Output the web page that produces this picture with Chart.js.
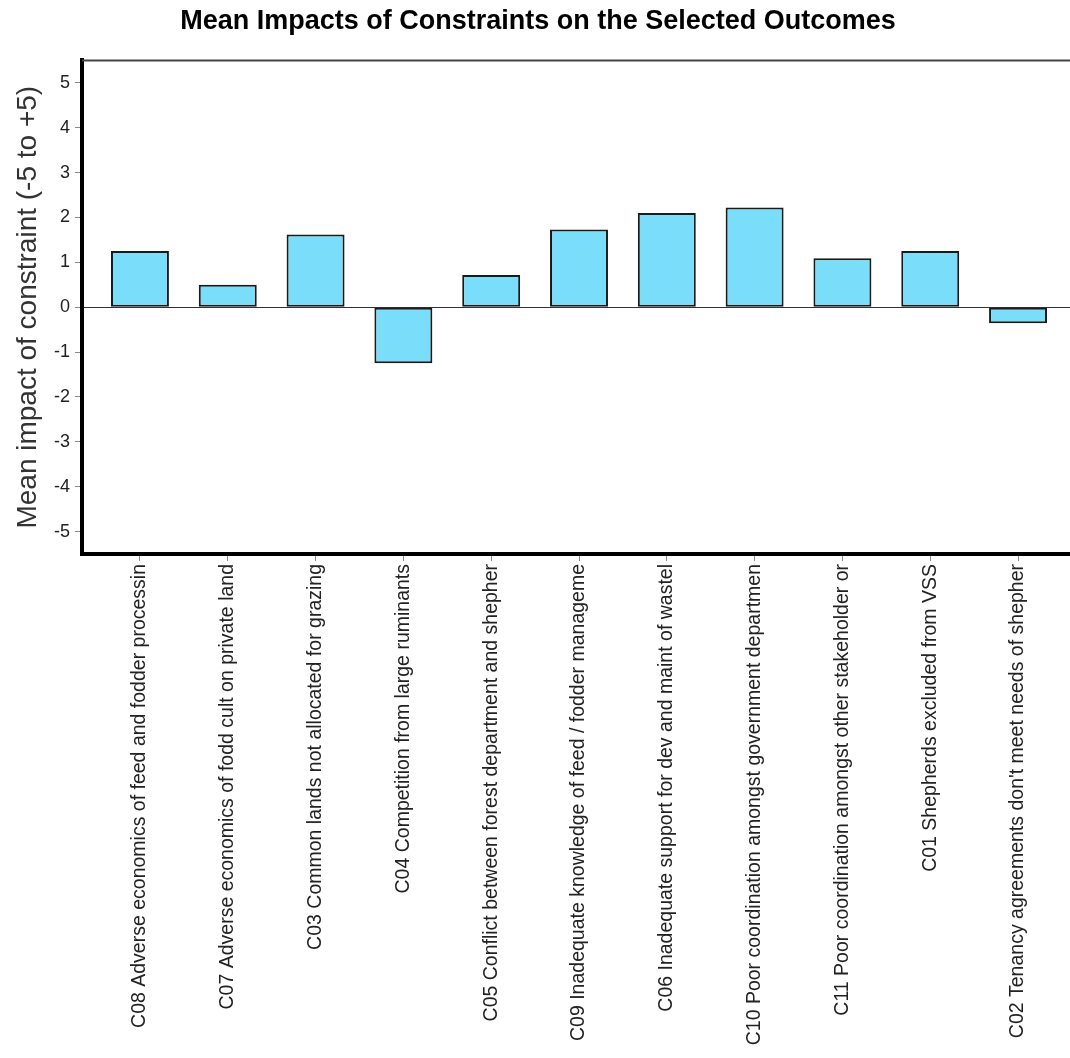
<!DOCTYPE html>
<html>
<head>
<meta charset="utf-8">
<title>Mean Impacts of Constraints</title>
<script src="https://cdn.jsdelivr.net/npm/chart.js@4/dist/chart.umd.min.js"></script>
<style>
    html, body { margin: 0; padding: 0; background: #fff; overflow: hidden; }
    #wrap { width: 1080px; height: 1058px; }
</style>
</head>
<body>
<div id="wrap"><canvas id="impactChart"></canvas></div>
<script>
// Data
const categories = [
    'C08 Adverse economics of feed and fodder processin',
    'C07 Adverse economics of fodd cult on private land',
    'C03 Common lands not allocated for grazing',
    'C04 Competition from large ruminants',
    'C05 Conflict between forest department and shepher',
    'C09 Inadequate knowledge of feed / fodder manageme',
    'C06 Inadequate support for dev and maint of wastel',
    'C10 Poor coordination amongst government departmen',
    'C11 Poor coordination amongst other stakeholder or',
    'C01 Shepherds excluded from VSS',
    "C02 Tenancy agreements don't meet needs of shepher"
];
const meanImpact = [1.25, 0.5, 1.62, -1.25, 0.72, 1.73, 2.1, 2.22, 1.09, 1.25, -0.36];
const yTicks = [-5, -4, -3, -2, -1, 0, 1, 2, 3, 4, 5];

const FONT = '"Liberation Sans", Arial, sans-serif';

// Thin top edge of the plot frame
const topFrame = {
    id: 'topFrame',
    afterDraw(chart) {
        const { ctx, chartArea } = chart;
        ctx.save();
        ctx.strokeStyle = '#444';
        ctx.lineWidth = 2;
        ctx.beginPath();
        ctx.moveTo(chartArea.left, chartArea.top);
        ctx.lineTo(chartArea.right + 10, chartArea.top);
        ctx.stroke();
        ctx.restore();
    }
};

new Chart(document.getElementById('impactChart'), {
    type: 'bar',
    data: {
        datasets: [{
            data: categories.map((c, i) => ({ x: i, y: meanImpact[i] })),
            backgroundColor: '#7adefa',
            borderColor: '#1a1a1a',
            borderWidth: 2,
            borderSkipped: false,
            barPercentage: 0.66,
            categoryPercentage: 1
        }]
    },
    options: {
        responsive: true,
        maintainAspectRatio: false,
        animation: false,
        layout: { padding: { left: 0, right: 4, top: 0, bottom: 0 } },
        plugins: {
            legend: { display: false },
            tooltip: { enabled: false },
            title: {
                display: true,
                text: 'Mean Impacts of Constraints on the Selected Outcomes',
                color: '#000',
                font: { family: FONT, size: 27, weight: 'bold' },
                padding: { top: 5, bottom: 23 }
            }
        },
        scales: {
            x: {
                type: 'linear',
                offset: false,
                min: -0.66,
                max: 10.66,
                afterBuildTicks: (scale) => {
                    scale.ticks = categories.map((c, i) => ({ value: i }));
                },
                afterFit: (scale) => { scale.height = 504; },
                border: { color: '#000', width: 4 },
                grid: { offset: false, drawOnChartArea: false, tickLength: 7, tickColor: '#888' },
                ticks: {
                    autoSkip: false,
                    maxRotation: 90,
                    minRotation: 90,
                    padding: 3,
                    color: '#222',
                    font: { family: FONT, size: 19.5 },
                    callback: (value) => categories[value]
                }
            },
            y: {
                min: -5.5,
                max: 5.5,
                afterBuildTicks: (scale) => {
                    scale.ticks = yTicks.map(v => ({ value: v }));
                },
                afterFit: (scale) => { scale.width = 82; },
                border: { color: '#000', width: 4 },
                grid: {
                    color: (ctx) => (ctx.tick && ctx.tick.value === 0 ? '#333' : 'rgba(0,0,0,0)'),
                    lineWidth: 1,
                    tickLength: 7,
                    tickColor: '#888'
                },
                ticks: {
                    padding: 5,
                    color: '#222',
                    font: { family: FONT, size: 18 }
                },
                title: {
                    display: true,
                    text: 'Mean impact of constraint (-5 to +5)',
                    color: '#333',
                    font: { family: FONT, size: 28 },
                    padding: { top: 11, bottom: 0 }
                }
            }
        }
    },
    plugins: [topFrame]
});
</script>
</body>
</html>
